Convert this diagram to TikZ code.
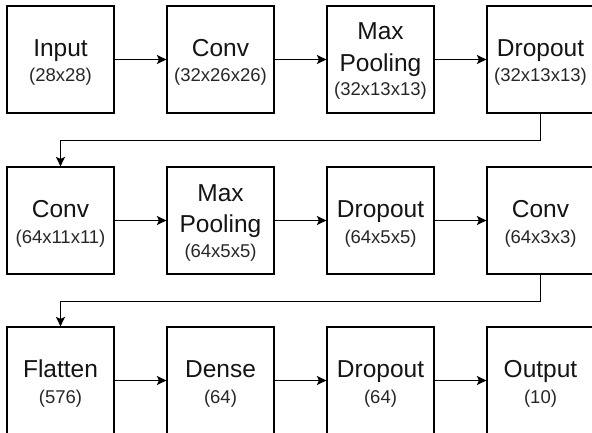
\documentclass[tikz,border=0pt]{standalone}
\usepackage{fontspec}
\setmainfont{Liberation Sans}
\usetikzlibrary{arrows.meta,calc}

\tikzset{
  layer/.style={draw=black, line width=1.2pt, minimum width=107pt, minimum height=107pt, inner sep=0pt},
  ttl/.style={anchor=base, inner sep=0pt, font=\fontsize{24.5}{28}\selectfont, text=black!92},
  sub/.style={anchor=base, inner sep=0pt, font=\fontsize{18.5}{21}\selectfont, text=black!85},
  flow/.style={line width=1.2pt, -{Stealth[length=9.5pt,width=9pt,inset=2pt]}}
}

% caption of a layer: name line(s) and output shape
\newcommand\layertwo[3]{%
  \node[ttl] (#1-t) at ($(#1.center)+(0,3)$) {#2};
  \node[sub] (#1-s) at ($(#1.center)+(0,-22.5)$) {#3};}
\newcommand\layerthree[4]{%
  \node[ttl] (#1-t) at ($(#1.center)+(0,19.5)$) {#2};
  \node[ttl] (#1-u) at ($(#1.center)+(0,-12)$) {#3};
  \node[sub] (#1-s) at ($(#1.center)+(0,-36.5)$) {#4};}

\begin{document}
\begin{tikzpicture}[x=1pt,y=1pt]
  \useasboundingbox (0,0) rectangle (592,432);
  \clip (0,0) rectangle (592,432);

  % first row
  \node[layer] (a1) at (60.5,372.5) {};
  \node[layer] (a2) at (220.5,372.5) {};
  \node[layer] (a3) at (380.5,372.5) {};
  \node[layer] (a4) at (540.5,372.5) {};
  % second row
  \node[layer] (b1) at (60.5,211.5) {};
  \node[layer] (b2) at (220.5,211.5) {};
  \node[layer] (b3) at (380.5,211.5) {};
  \node[layer] (b4) at (540.5,211.5) {};
  % third row
  \node[layer] (c1) at (60.5,51.5) {};
  \node[layer] (c2) at (220.5,51.5) {};
  \node[layer] (c3) at (380.5,51.5) {};
  \node[layer] (c4) at (540.5,51.5) {};

  \layertwo{a1}{Input}{(28x28)}
  \layertwo{a2}{Conv}{(32x26x26)}
  \layerthree{a3}{Max}{Pooling}{(32x13x13)}
  \layertwo{a4}{Dropout}{(32x13x13)}

  \layertwo{b1}{Conv}{(64x11x11)}
  \layerthree{b2}{Max}{Pooling}{(64x5x5)}
  \layertwo{b3}{Dropout}{(64x5x5)}
  \layertwo{b4}{Conv}{(64x3x3)}

  \layertwo{c1}{Flatten}{(576)}
  \layertwo{c2}{Dense}{(64)}
  \layertwo{c3}{Dropout}{(64)}
  \layertwo{c4}{Output}{(10)}

  % connections
  \draw[flow] (a1.east) -- (a2.west);
  \draw[flow] (a2.east) -- (a3.west);
  \draw[flow] (a3.east) -- (a4.west);
  \draw[flow] (a4.south) -- ++(0,-27) -| (b1.north);
  \draw[flow] (b1.east) -- (b2.west);
  \draw[flow] (b2.east) -- (b3.west);
  \draw[flow] (b3.east) -- (b4.west);
  \draw[flow] (b4.south) -- ++(0,-26.5) -| (c1.north);
  \draw[flow] (c1.east) -- (c2.west);
  \draw[flow] (c2.east) -- (c3.west);
  \draw[flow] (c3.east) -- (c4.west);
\end{tikzpicture}
\end{document}
